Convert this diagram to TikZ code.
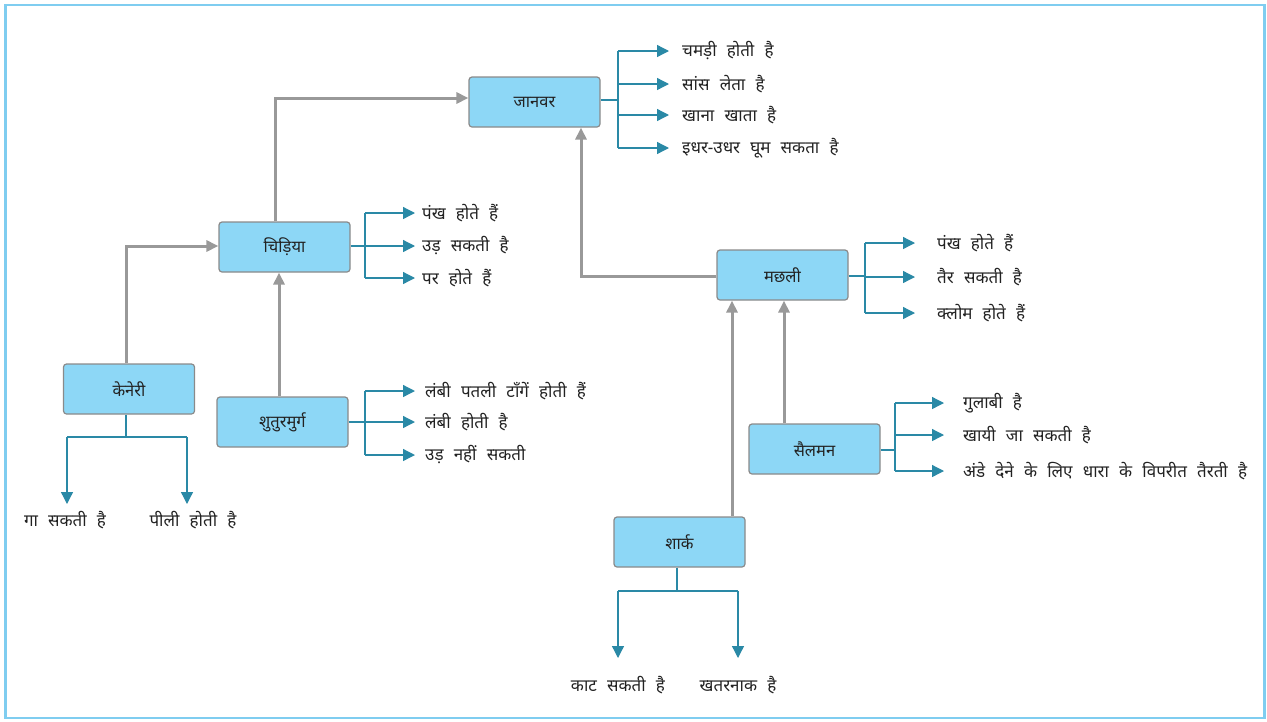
\documentclass[tikz,border=0pt]{standalone}
\usepackage{fontspec}
\newfontfamily\dev[Script=Devanagari,WordSpace=2.3]{Noto Sans}
\usetikzlibrary{arrows.meta,calc}
\definecolor{boxfill}{HTML}{8DD7F6}
\definecolor{boxdraw}{HTML}{8A8A8A}
\definecolor{frameblue}{HTML}{7FCDF0}
\definecolor{tealc}{HTML}{2A89A6}
\definecolor{greyc}{HTML}{999999}
\definecolor{txt}{HTML}{222222}
\tikzset{
  catbox/.style={draw=boxdraw, line width=1.2pt, fill=boxfill, rounded corners=3pt, minimum width=131pt, minimum height=50pt, inner sep=0pt, font=\dev\fontsize{16.5}{18}\selectfont, text=txt},
  lbl/.style={inner sep=0pt, font=\dev\fontsize{17}{19}\selectfont, text=txt},
  tline/.style={draw=tealc, line width=1.3pt},
  tarr/.style={draw=tealc, line width=1.3pt, -{Triangle[length=12pt,width=12pt]}, tealc},
  garr/.style={draw=greyc, line width=3pt, -{Triangle[length=12pt,width=11pt]}, greyc},
}
\begin{document}
\begin{tikzpicture}[x=1pt,y=-1pt]
\useasboundingbox (0,0) rectangle (1267,721);
\draw[frameblue, line width=2.5pt] (5.5,5) rectangle (1264.5,718);

% boxes
\node[catbox] (jan) at (534.5,102) {जानवर};
\node[catbox] (chi) at (284.5,247) {चिड़िया};
\node[catbox] (ken) at (129,389) {केनेरी};
\node[catbox] (shu) at (282.5,422) {शुतुरमुर्ग};
\node[catbox] (mac) at (782.5,275) {मछली};
\node[catbox] (sal) at (814.5,449) {सैलमन};
\node[catbox] (sha) at (679.5,542) {शार्क};

% grey hierarchy arrows
\coordinate (c1) at (275,98);
\draw[garr] (chi.north -| c1) -- (c1) -- (jan.west |- c1);
\coordinate (c2) at (126,246);
\draw[garr] (ken.north -| c2) -- (c2) -- (chi.west |- c2);
\coordinate (c3) at (279,0);
\draw[garr] (shu.north -| c3) -- (chi.south -| c3);
\coordinate (c4) at (581,276);
\draw[garr] (mac.west |- c4) -- (c4) -- (jan.south -| c4);
\coordinate (c5) at (732,0);
\draw[garr] (sha.north -| c5) -- (mac.south -| c5);
\coordinate (c6) at (784,0);
\draw[garr] (sal.north -| c6) -- (mac.south -| c6);

% janwar properties
\node[lbl, anchor=west] (j1) at (682,51) {चमड़ी होती है};
\node[lbl, anchor=west] (j2) at (682,84) {सांस लेता है};
\node[lbl, anchor=west] (j3) at (682,115) {खाना खाता है};
\node[lbl, anchor=west] (j4) at (682,148) {इधर-उधर घूम सकता है};
\coordinate (jb) at (618,100);
\draw[tline] (jan.east |- jb) -- (jb);
\draw[tline] (jb |- j1.west) -- (jb |- j4.west);
\foreach \t in {j1,j2,j3,j4} \draw[tarr] (jb |- \t.west) -- ([xshift=-13pt]\t.west);

% chidiya properties
\node[lbl, anchor=west] (h1) at (422,213) {पंख होते हैं};
\node[lbl, anchor=west] (h2) at (422,246) {उड़ सकती है};
\node[lbl, anchor=west] (h3) at (422,278) {पर होते हैं};
\coordinate (hb) at (365,246);
\draw[tline] (chi.east |- hb) -- (hb);
\draw[tline] (hb |- h1.west) -- (hb |- h3.west);
\foreach \t in {h1,h2,h3} \draw[tarr] (hb |- \t.west) -- ([xshift=-7pt]\t.west);

% shuturmurg properties
\node[lbl, anchor=west] (s1) at (425,391) {लंबी पतली टाँगें होती हैं};
\node[lbl, anchor=west] (s2) at (425,422) {लंबी होती है};
\node[lbl, anchor=west] (s3) at (425,455) {उड़ नहीं सकती};
\coordinate (sb) at (365,422);
\draw[tline] (shu.east |- sb) -- (sb);
\draw[tline] (sb |- s1.west) -- (sb |- s3.west);
\foreach \t in {s1,s2,s3} \draw[tarr] (sb |- \t.west) -- ([xshift=-10pt]\t.west);

% machhli properties
\node[lbl, anchor=west] (m1) at (937,243) {पंख होते हैं};
\node[lbl, anchor=west] (m2) at (937,277) {तैर सकती है};
\node[lbl, anchor=west] (m3) at (937,313) {क्लोम होते हैं};
\coordinate (mb) at (865,276);
\draw[tline] (mac.east |- mb) -- (mb);
\draw[tline] (mb |- m1.west) -- (mb |- m3.west);
\foreach \t in {m1,m2,m3} \draw[tarr] (mb |- \t.west) -- ([xshift=-22pt]\t.west);

% salmon properties
\node[lbl, anchor=west] (a1) at (963,403) {गुलाबी है};
\node[lbl, anchor=west] (a2) at (963,435) {खायी जा सकती है};
\node[lbl, anchor=west] (a3) at (963,471) {अंडे देने के लिए धारा के विपरीत तैरती है};
\coordinate (ab) at (895,450);
\draw[tline] (sal.east |- ab) -- (ab);
\draw[tline] (ab |- a1.west) -- (ab |- a3.west);
\foreach \t in {a1,a2,a3} \draw[tarr] (ab |- \t.west) -- ([xshift=-19pt]\t.west);

% keneri properties
\node[lbl] (k1) at (65,520) {गा सकती है};
\node[lbl] (k2) at (193,520) {पीली होती है};
\coordinate (kb) at (126,437);
\coordinate (kl) at (67,437);
\coordinate (kr) at (187,437);
\draw[tline] (ken.south -| kb) -- (kb);
\draw[tline] (kl) -- (kr);
\draw[tarr] (kl) -- (kl |- 0,504);
\draw[tarr] (kr) -- (kr |- 0,504);

% shark properties
\node[lbl] (r1) at (618,685) {काट सकती है};
\node[lbl] (r2) at (738,685) {खतरनाक है};
\coordinate (rb) at (677,591);
\coordinate (rl) at (618,591);
\coordinate (rr) at (738,591);
\draw[tline] (sha.south -| rb) -- (rb);
\draw[tline] (rl) -- (rr);
\draw[tarr] (rl) -- (rl |- 0,658);
\draw[tarr] (rr) -- (rr |- 0,658);
\end{tikzpicture}
\end{document}
